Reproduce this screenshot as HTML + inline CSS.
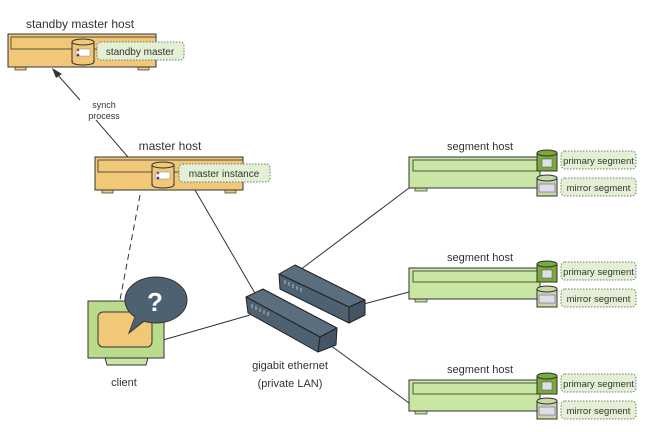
<!DOCTYPE html><html><head><style>body{margin:0;background:#fff}svg{display:block}text{font-family:"Liberation Sans",sans-serif;fill:#333}</style></head><body>
<svg width="651" height="432" viewBox="0 0 651 432">
<defs>
<g id="db"><rect x="0" y="3" width="22" height="20" fill="#f0c878" stroke="#333"/><ellipse cx="11" cy="23" rx="11" ry="3" fill="#f0c878" stroke="#333"/><rect x="0.5" y="4" width="21" height="18" fill="#f0c878"/><ellipse cx="11" cy="3" rx="11" ry="3" fill="#f0c878" stroke="#333"/><rect x="4" y="10" width="14" height="7" fill="#fff" stroke="#888" stroke-width=".5"/><circle cx="6" cy="11" r="1.3" fill="#c33"/><circle cx="6" cy="16" r="1.3" fill="#338"/></g>
<g id="gdb"><rect x="0" y="3" width="20" height="18" fill="#7aaa3a" stroke="#333"/><ellipse cx="10" cy="3" rx="10" ry="3" fill="#7aaa3a" stroke="#333"/><rect x="5" y="9" width="10" height="8" fill="#dde" stroke="#555" stroke-width=".5"/></g>
<g id="mdb"><rect x="0" y="3" width="20" height="18" fill="#c5d8a8" stroke="#333"/><ellipse cx="10" cy="3" rx="10" ry="3" fill="#c5d8a8" stroke="#333"/><rect x="2" y="9" width="16" height="8" fill="#dde" stroke="#555" stroke-width=".5"/></g>
<g id="seg"><rect x="6" y="31" width="12" height="3" fill="#c5e0a0" stroke="#333" stroke-width=".7"/><rect x="0" y="0" width="131" height="31" fill="#c9e6a4" stroke="#333"/><rect x="4" y="3" width="127" height="11" fill="#c9e6a4" stroke="#333" stroke-width=".8"/>
<use href="#gdb" x="128" y="-7"/><use href="#mdb" x="128" y="18"/>
<rect x="152" y="-6" width="75" height="18" rx="4" fill="#e4f0d4" stroke="#777" stroke-dasharray="1.5,1.5"/><text x="189.5" y="7" font-size="9.5" text-anchor="middle">primary segment</text>
<rect x="152" y="21" width="75" height="18" rx="4" fill="#e4f0d4" stroke="#777" stroke-dasharray="1.5,1.5"/><text x="189.5" y="34" font-size="9.5" text-anchor="middle">mirror segment</text>
<text x="71" y="-7" font-size="11" text-anchor="middle">segment host</text></g>
<g id="host"><rect x="7" y="33" width="11" height="3" fill="#f0c878" stroke="#333" stroke-width=".7"/><rect x="130" y="33" width="11" height="3" fill="#f0c878" stroke="#333" stroke-width=".7"/><rect x="0" y="0" width="148" height="33" fill="#f0c878" stroke="#333"/><rect x="3" y="3" width="145" height="12" fill="#f0c878" stroke="#333" stroke-width=".8"/></g>
</defs>
<!-- lines -->
<g stroke="#333" stroke-width="1" fill="none">
<line x1="128" y1="157" x2="96" y2="120"/>
<line x1="80" y1="100" x2="56" y2="73"/>
<line x1="195" y1="190" x2="256" y2="295"/>
<line x1="140" y1="195" x2="120" y2="300" stroke-dasharray="6,4"/>
<line x1="163" y1="340" x2="250" y2="315"/>
<line x1="300" y1="270" x2="409" y2="188"/>
<line x1="360" y1="305" x2="409" y2="292"/>
<line x1="330" y1="345" x2="409" y2="403"/>
<line x1="270" y1="320" x2="290" y2="305"/>
</g>
<polygon points="52,68 62,74 56,78" fill="#333"/>
<text x="104" y="108" font-size="9" text-anchor="middle">synch</text><text x="104" y="119" font-size="9" text-anchor="middle">process</text>
<!-- standby -->
<text x="80" y="28" font-size="12" text-anchor="middle">standby master host</text>
<use href="#host" x="8" y="34"/>
<use href="#db" x="72" y="39"/>
<rect x="97" y="42" width="87" height="18" rx="4" fill="#e4f0d4" stroke="#777" stroke-dasharray="1.5,1.5"/><text x="140" y="55" font-size="10" text-anchor="middle">standby master</text>
<!-- master -->
<text x="170" y="150" font-size="12" text-anchor="middle">master host</text>
<use href="#host" x="95" y="157"/>
<use href="#db" x="152" y="162"/>
<rect x="179" y="164" width="91" height="18" rx="4" fill="#e4f0d4" stroke="#777" stroke-dasharray="1.5,1.5"/><text x="224" y="177" font-size="10" text-anchor="middle">master instance</text>
<!-- segments -->
<use href="#seg" x="409" y="157"/>
<use href="#seg" x="409" y="268"/>
<use href="#seg" x="409" y="380"/>
<!-- switches -->
<g stroke="#222" stroke-width="1" stroke-linejoin="round">
<polygon points="279,274 295,265 365,300 349,307" fill="#5a6e7e"/>
<polygon points="279,274 349,307 349,323 280,289" fill="#4d6171"/>
<polygon points="349,307 365,300 365,315 349,323" fill="#445666"/>
<polygon points="246,297 263,289 337,328 320,337" fill="#5a6e7e"/>
<polygon points="246,297 320,337 318,352 248,313" fill="#4d6171"/>
<polygon points="320,337 337,328 336,345 318,352" fill="#445666"/>
</g>
<g stroke="#bbb" stroke-width="1"><line x1="285" y1="280" x2="285" y2="284"/><line x1="289" y1="282" x2="289" y2="286"/><line x1="293" y1="284" x2="293" y2="288"/><line x1="297" y1="286" x2="297" y2="290"/><line x1="301" y1="288" x2="301" y2="292"/>
<line x1="252" y1="304" x2="252" y2="308"/><line x1="256" y1="306" x2="256" y2="310"/><line x1="260" y1="308" x2="260" y2="312"/><line x1="264" y1="310" x2="264" y2="314"/><line x1="268" y1="312" x2="268" y2="316"/></g>
<text x="290" y="369" font-size="11" text-anchor="middle">gigabit ethernet</text>
<text x="290" y="387" font-size="11" text-anchor="middle">(private LAN)</text>
<!-- client -->
<polygon points="105,358 148,358 146,365 107,365" fill="#c9e6a4" stroke="#333"/>
<rect x="88" y="301" width="76" height="57" fill="#b8dc8c" stroke="#333"/>
<rect x="98" y="312" width="54" height="35" rx="5" fill="#f0c878" stroke="#333"/>
<path d="M136,314 L129,333 L148,318 Z" fill="#4d6171" stroke="#333"/>
<ellipse cx="156" cy="300" rx="31" ry="23" fill="#4d6171" stroke="#333"/>
<path d="M137,312 L130,331 L147,318" fill="#4d6171"/>
<text x="155" y="311" font-size="26" font-weight="bold" text-anchor="middle" style="fill:#fff">?</text>
<text x="124" y="386" font-size="11" text-anchor="middle">client</text>
</svg></body></html>
